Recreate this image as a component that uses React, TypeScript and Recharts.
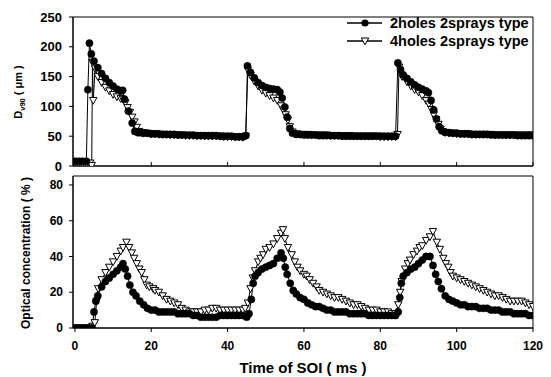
import React from 'react';
import { LineChart, Line, XAxis, YAxis, ReferenceArea, Legend } from 'recharts';

const FONT = '"Liberation Sans", Arial, Helvetica, sans-serif';

const xTicks = [0, 20, 40, 60, 80, 100, 120];
const topYTicks = [0, 50, 100, 150, 200, 250];
const bottomYTicks = [0, 20, 40, 60, 80];
const seriesNames = ['2holes 2sprays type', '4holes 2sprays type'];
const topYLabel = ['D', 'v90', ' ( μm )'];
const bottomYLabel = 'Optical concentration ( % )';
const xLabel = 'Time of SOI ( ms )';

// [time (ms), D_v90 (μm)]
const topTwoHoles: [number, number][] = [
  [0,8],[1,8],[2,8],[3,8],[3.4,128],[3.8,206],[4.3,188],[5,176],[6,165],[7,155],[8,147],[9,140],[10,134],[11,129],[12,126],[12.5,127],[13,112],[14,92],[15,72],[15.7,58],[16.5,56],[17,56],[18,55],[19,55],[20,54],[21,54],[22,54],[23,53],[24,53],[25,53],[26,53],[27,52],[28,52],[29,52],[30,52],[31,52],[32,51],[33,51],[34,51],[35,51],[36,51],[37,51],[38,50],[39,50],[40,50],[41,50],[42,49],[43,49],[44,49],[44.8,51],
  [45.2,168],[46,157],[47,148],[48,140],[49,135],[50,132],[51,130],[52,129],[53,128],[53.7,124],[54.3,114],[55,99],[55.6,82],[56.3,63],[57,55],[58,53],[59,53],[60,52],[61,52],[62,52],[63,52],[64,51],[65,51],[66,51],[67,51],[68,51],[69,51],[70,50],[71,50],[72,50],[73,50],[74,50],[75,50],[76,50],[77,50],[78,50],[79,50],[80,50],[81,50],[82,50],[83,50],[84,50],
  [84.6,173],[85.3,162],[86,153],[87,147],[88,141],[89,136],[90,132],[91,129],[92,126],[92.6,123],[93.3,110],[94,94],[94.7,79],[95.4,66],[96.1,59],[97,57],[98,56],[99,55],[100,55],[101,54],[102,54],[103,54],[104,53],[105,53],[106,53],[107,53],[108,53],[109,52],[110,52],[111,52],[112,52],[113,52],[114,52],[115,52],[116,51],[117,51],[118,51],[119,51],[120,51],
];

const topFourHoles: [number, number][] = [
  [0,5],[1,5],[2,5],[3,5],[4,5],[4.4,1],[4.6,174],[4.8,110],[5.3,163],[6,150],[7,140],[8,132],[9,126],[10,120],[11,116],[12,113],[12.6,112],[13.2,106],[13.8,98],[14.4,90],[15,82],[15.6,74],[16.2,65],[16.8,58],[17.5,56],[18,55],[19,55],[20,54],[21,54],[22,53],[23,53],[24,53],[25,52],[26,52],[27,52],[28,52],[29,51],[30,51],[31,51],[32,51],[33,51],[34,50],[35,50],[36,50],[37,50],[38,50],[39,49],[40,49],[41,49],[42,49],[43,49],[44,48],[44.7,50],
  [45.3,161],[46,152],[47,142],[48,134],[49,127],[50,122],[51,118],[52,114],[53,110],[54,101],[54.6,94],[55.2,86],[55.8,77],[56.3,66],[57,57],[58,54],[59,53],[60,53],[61,53],[62,52],[63,52],[64,52],[65,52],[66,52],[67,51],[68,51],[69,51],[70,51],[71,51],[72,51],[73,50],[74,50],[75,50],[76,50],[77,50],[78,50],[79,50],[80,49],[81,49],[82,49],[83,49],[84,49],[84.5,53],
  [84.9,166],[85.7,150],[87,141],[88,134],[89,128],[90,124],[91,118],[92,110],[92.7,104],[93.4,95],[94,86],[94.6,78],[95.2,70],[95.8,62],[96.5,57],[97,56],[98,55],[99,55],[100,54],[101,54],[102,54],[103,54],[104,53],[105,53],[106,53],[107,53],[108,53],[109,53],[110,52],[111,52],[112,52],[113,52],[114,52],[115,52],[116,52],[117,52],[118,52],[119,52],[120,52],
];

// [time (ms), optical concentration (%)]
const bottomTwoHoles: [number, number][] = [
  [0,0],[1,0],[2,0],[3,0],[4,0],[4.5,0],[5,9],[5.5,15],[6,18],[7,23],[8,26],[9,28],[10,30],[11,32],[12,34],[12.6,36],[13.2,33],[13.8,29],[14.4,24],[15.2,20],[16,18],[17,15],[18,13],[19,11],[20,10],[21,10],[22,9],[23,9],[24,9],[25,9],[26,9],[27,8],[28,8],[29,8],[30,8],[31,7],[32,7],[33,6],[34,6],[35,6],[36,6],[37,6],[38,7],[39,7],[40,7],[41,7],[42,7],[43,7],[44,7],[45,6],
  [45.6,8],[46.2,16],[46.7,25],[47.2,29],[48,31],[49,33],[50,34],[51,35],[52,36],[53,39],[54,42],[54.6,39],[55.1,34],[55.6,30],[56.4,25],[57.2,21],[58,19],[59,17],[60,16],[61,14],[62,13],[63,12],[64,12],[65,11],[66,10],[67,10],[68,9],[69,9],[70,9],[71,9],[72,8],[73,8],[74,8],[75,8],[76,8],[77,7],[78,7],[79,7],[80,7],[81,7],[82,7],[83,7],[84,7],
  [84.7,9],[85.1,17],[85.5,25],[86,29],[87,31],[88,33],[89,34],[90,36],[91,38],[92,40],[93,40],[93.8,35],[94.5,30],[95.2,26],[96,22],[97,18],[98,16],[99,15],[100,14],[101,13],[102,13],[103,12],[104,12],[105,12],[106,11],[107,11],[108,11],[109,10],[110,10],[111,10],[112,9],[113,9],[114,9],[115,8],[116,8],[117,8],[118,8],[119,7],[120,7],
];

const bottomFourHoles: [number, number][] = [
  [0,0],[1,0],[2,0],[3,0],[4,0],[4.6,1],[5.2,3],[5.7,15],[6.1,22],[7,27],[8,31],[9,34],[10,37],[11,40],[12,43],[12.6,45],[13.5,48],[14.2,45],[14.9,42],[15.5,39],[16.2,36],[16.9,33],[17.5,31],[18.2,27],[18.8,24],[19.5,23],[20.5,22],[21,21],[22,20],[23,18],[24,16],[25,15],[26,14],[27,13],[28,11],[29,10],[30,9],[31,9],[32,9],[33,9],[34,10],[35,10],[36,11],[37,11],[38,10],[39,10],[40,10],[41,10],[42,10],[43,10],[44,10],[44.6,11],
  [45.3,14],[46,22],[46.6,28],[47.2,32],[48,37],[48.6,39],[49.3,41],[50,44],[51,45],[52,47],[53,50],[54,53],[54.5,55],[55,50],[55.8,45],[56.8,41],[57.6,37],[58.3,34],[59,32],[60,30],[60.7,29],[61.5,27],[62.4,25],[63.3,23],[64,21],[65,20],[66,19],[67,18],[68,17],[69,17],[70,16],[71,15],[72,14],[73,13],[74,13],[75,12],[76,11],[77,10],[78,10],[79,10],[80,9],[81,9],[82,9],[83,8],[84,8],
  [84.7,13],[85.2,20],[85.6,26],[86.5,33],[87.2,36],[87.8,38],[88.7,41],[89.6,43],[90.3,45],[91,46],[92,49],[93,51],[93.8,54],[94.8,48],[95.6,44],[96.5,39],[97.2,36],[97.8,34],[98.4,31],[99,29],[100,28],[101,27],[102,26],[103,25],[104,24],[105,23],[106,22],[107,21],[108,20],[109,19],[110,18],[111,18],[112,17],[113,16],[114,15],[115,15],[116,15],[117,15],[118,14],[119,13],[120,12],
];

const toRows = (pairs: [number, number][]) => pairs.map(([t, v]) => ({ t, v }));

const topTwo = toRows(topTwoHoles);
const topFour = toRows(topFourHoles);
const bottomTwo = toRows(bottomTwoHoles);
const bottomFour = toRows(bottomFourHoles);

const triPoints = (cx: number, cy: number) =>
  `${cx - 3.7},${cy - 3} ${cx + 3.7},${cy - 3} ${cx},${cy + 3.8}`;

const renderTri = (props: any) => {
  const { cx, cy, index } = props;
  if (cx == null || cy == null || isNaN(cx) || isNaN(cy)) return <g key={`tri-${index}`} />;
  return (
    <polygon key={`tri-${index}`} points={triPoints(cx, cy)} fill="#fff" stroke="#000" strokeWidth={1} />
  );
};

const circleDot = { r: 3.6, fill: '#000', stroke: '#000', strokeWidth: 0.5 };

const tickStyle = (size: number) => ({ fill: '#000', fontSize: size, fontWeight: 'bold' as const, fontFamily: FONT });

const renderLegend = () => (
  <svg width={190} height={40} style={{ display: 'block' }}>
    <line x1={2} y1={9} x2={37} y2={9} stroke="#000" strokeWidth={1.3} />
    <circle cx={20} cy={9} r={3.6} fill="#000" />
    <text x={45} y={14} fontSize={14.5} fontWeight="bold" fontFamily={FONT} fill="#000">{seriesNames[0]}</text>
    <line x1={2} y1={27} x2={37} y2={27} stroke="#000" strokeWidth={1.3} />
    <polygon points={triPoints(20, 27)} fill="#fff" stroke="#000" strokeWidth={1} />
    <text x={45} y={32} fontSize={14.5} fontWeight="bold" fontFamily={FONT} fill="#000">{seriesNames[1]}</text>
  </svg>
);

export default function App() {
  return (
    <div style={{ position: 'absolute', left: 0, top: 0, width: 551, height: 377, background: '#fff', overflow: 'hidden' }}>
      <div style={{ position: 'absolute', left: 0, top: 0 }}>
        <LineChart width={551} height={176} margin={{ top: 17, right: 18, bottom: 6, left: 0 }}>
          <XAxis
            dataKey="t"
            type="number"
            domain={[-0.5, 120]}
            ticks={xTicks}
            allowDataOverflow
            height={4}
            tickSize={-4}
            tickFormatter={() => ''}
            axisLine={{ stroke: '#000' }}
            tickLine={{ stroke: '#000' }}
          />
          <YAxis
            type="number"
            domain={[0, 250]}
            ticks={topYTicks}
            interval={0}
            allowDataOverflow
            width={73}
            tickSize={4}
            tickMargin={7}
            tick={tickStyle(13)}
            axisLine={{ stroke: '#000' }}
            tickLine={{ stroke: '#000' }}
          />
          <ReferenceArea x1={-0.5} x2={120} y1={0} y2={250} fill="none" stroke="#000" strokeWidth={1} ifOverflow="visible" />
          <Legend
            layout="vertical"
            align="center"
            verticalAlign="middle"
            wrapperStyle={{ left: 345, top: 14 }}
            content={renderLegend}
          />
          <Line
            data={topFour}
            dataKey="v"
            name={seriesNames[1]}
            type="linear"
            stroke="#000"
            strokeWidth={1}
            dot={renderTri}
            activeDot={false}
            isAnimationActive={false}
          />
          <Line
            data={topTwo}
            dataKey="v"
            name={seriesNames[0]}
            type="linear"
            stroke="#000"
            strokeWidth={1}
            dot={circleDot}
            activeDot={false}
            isAnimationActive={false}
          />
        </LineChart>
      </div>
      <div style={{ position: 'absolute', left: 0, top: 170 }}>
        <LineChart width={551} height={207} margin={{ top: 6, right: 18, bottom: 4, left: 0 }}>
          <XAxis
            dataKey="t"
            type="number"
            domain={[-0.5, 120]}
            ticks={xTicks}
            allowDataOverflow
            interval={0}
            height={45}
            tickSize={4}
            tickMargin={9}
            tick={tickStyle(12)}
            axisLine={{ stroke: '#000' }}
            tickLine={{ stroke: '#000' }}
            label={{ value: xLabel, position: 'insideBottom', offset: 0, fill: '#000', fontSize: 15, fontWeight: 'bold', fontFamily: FONT }}
          />
          <YAxis
            type="number"
            domain={[0, 85]}
            ticks={bottomYTicks}
            interval={0}
            allowDataOverflow
            width={73}
            tickSize={4}
            tickMargin={6}
            tick={tickStyle(12)}
            axisLine={{ stroke: '#000' }}
            tickLine={{ stroke: '#000' }}
          />
          <ReferenceArea x1={-0.5} x2={120} y1={0} y2={85} fill="none" stroke="#000" strokeWidth={1} ifOverflow="visible" />
          <Line
            data={bottomFour}
            dataKey="v"
            name={seriesNames[1]}
            type="linear"
            stroke="#000"
            strokeWidth={1}
            dot={renderTri}
            activeDot={false}
            isAnimationActive={false}
          />
          <Line
            data={bottomTwo}
            dataKey="v"
            name={seriesNames[0]}
            type="linear"
            stroke="#000"
            strokeWidth={1}
            dot={circleDot}
            activeDot={false}
            isAnimationActive={false}
          />
        </LineChart>
      </div>
      <svg width={551} height={377} style={{ position: 'absolute', left: 0, top: 0, pointerEvents: 'none' }}>
        <text transform="translate(22,92) rotate(-90)" textAnchor="middle" fontFamily={FONT} fontWeight="bold" fontSize={11} fill="#000">
          {topYLabel[0]}
          <tspan fontSize={7.5} dy={3}>{topYLabel[1]}</tspan>
          <tspan dy={-3}>{topYLabel[2]}</tspan>
        </text>
        <text transform="translate(30,253) rotate(-90)" textAnchor="middle" fontFamily={FONT} fontWeight="bold" fontSize={12} fill="#000">
          {bottomYLabel}
        </text>
      </svg>
    </div>
  );
}
